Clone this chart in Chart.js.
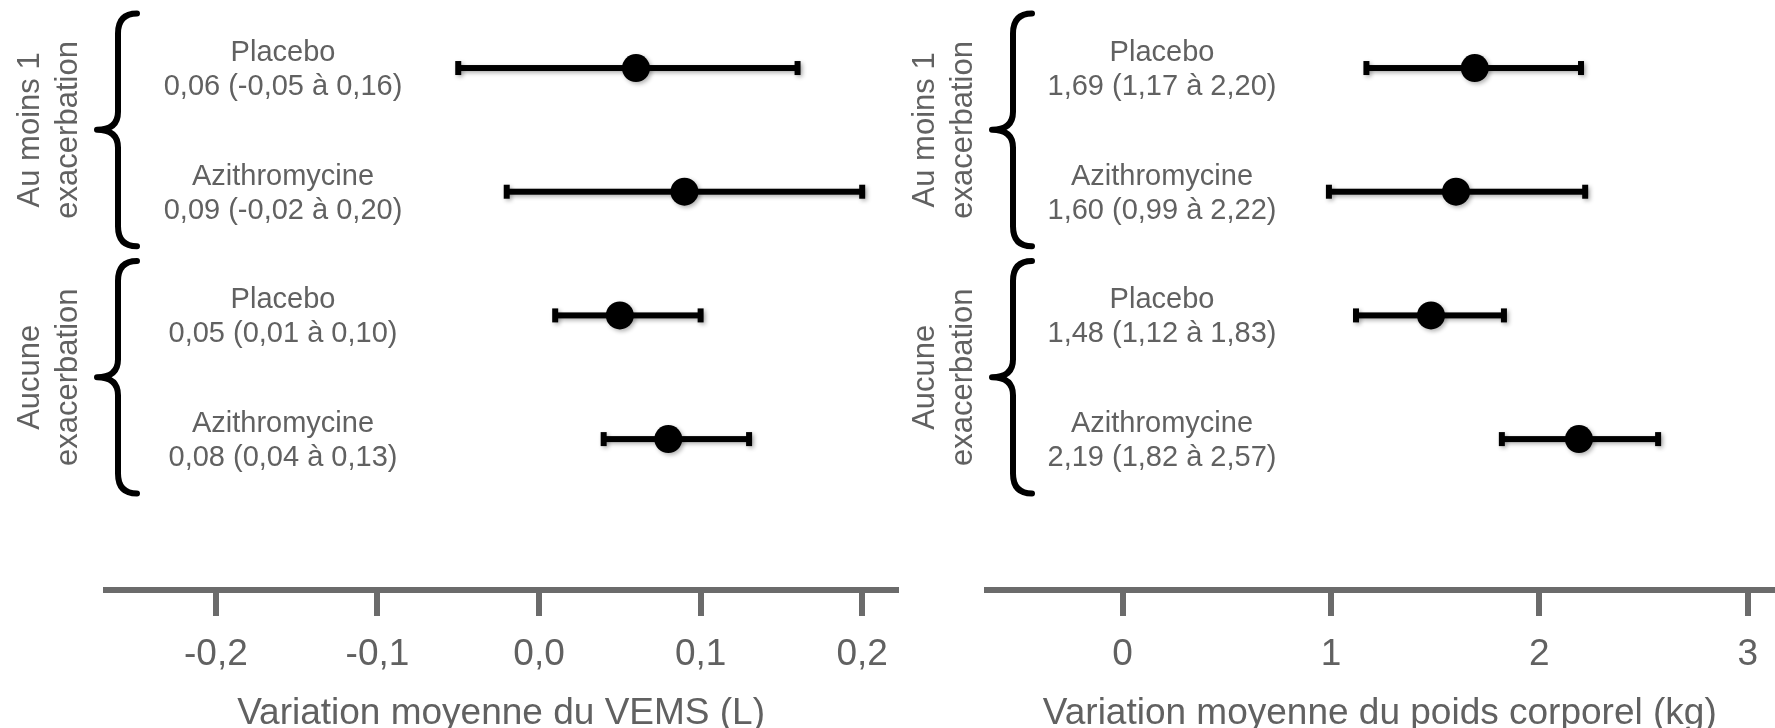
<!DOCTYPE html>
<html lang="fr">
<head>
<meta charset="utf-8">
<script src="https://cdn.jsdelivr.net/npm/chart.js@4.4.1/dist/chart.umd.min.js"></script>
<style>
  html, body { margin: 0; padding: 0; background: #fff; }
  #wrap { position: relative; width: 1775px; height: 728px; }
  .panel { position: absolute; top: 0; height: 728px; }
  #vemsPanel { left: 0; width: 905px; }
  #poidsPanel { left: 905px; width: 870px; }
</style>
</head>
<body>
<div id="wrap">
  <div class="panel" id="vemsPanel"><canvas id="vemsChart"></canvas></div>
  <div class="panel" id="poidsPanel"><canvas id="poidsChart"></canvas></div>
</div>
<script>
// rows top to bottom, two per group
const groups = [['Au moins 1', 'exacerbation'], ['Aucune', 'exacerbation']];
const treatments = ['Placebo', 'Azithromycine', 'Placebo', 'Azithromycine'];

// VEMS change (L), mean and 95% CI
const vemsMean = [0.06, 0.09, 0.05, 0.08];
const vemsLow = [-0.05, -0.02, 0.01, 0.04];
const vemsHigh = [0.16, 0.20, 0.10, 0.13];
const vemsTicks = [-0.2, -0.1, 0.0, 0.1, 0.2];

// body weight change (kg), mean and 95% CI
const poidsMean = [1.69, 1.60, 1.48, 2.19];
const poidsLow = [1.17, 0.99, 1.12, 1.82];
const poidsHigh = [2.20, 2.22, 1.83, 2.57];
const poidsTicks = [0, 1, 2, 3];

const FONT = '"Liberation Sans", Arial, Helvetica, sans-serif';
const TEXT = '#616161';
const AXIS = '#6b6b6b';

const fr = (v, d) => v.toFixed(d).replace('.', ',');

function drawBrace(ctx, x, top, mid, bottom) {
    const curl = 19;
    const tip = 21;
    ctx.beginPath();
    ctx.moveTo(x + curl, top);
    ctx.quadraticCurveTo(x, top, x, top + 20);
    ctx.lineTo(x, mid - 18);
    ctx.quadraticCurveTo(x, mid, x - tip, mid);
    ctx.quadraticCurveTo(x, mid, x, mid + 18);
    ctx.lineTo(x, bottom - 20);
    ctx.quadraticCurveTo(x, bottom, x + curl, bottom);
    ctx.stroke();
}

// whiskers, row labels, group braces
const forestPlugin = {
    id: 'forest',
    beforeDatasetsDraw(chart, args, opts) {
        const {ctx, scales: {x, y}} = chart;
        ctx.save();
        ctx.shadowColor = 'rgba(0,0,0,0.3)';
        ctx.shadowBlur = 4;
        ctx.shadowOffsetX = 2;
        ctx.shadowOffsetY = 2;
        ctx.fillStyle = '#000';
        opts.low.forEach((lo, i) => {
            const py = y.getPixelForValue(i);
            const x1 = x.getPixelForValue(lo);
            const x2 = x.getPixelForValue(opts.high[i]);
            ctx.fillRect(x1, py - 3, x2 - x1, 6);
            ctx.fillRect(x1 - 3, py - 7, 6, 14);
            ctx.fillRect(x2 - 3, py - 7, 6, 14);
        });
        ctx.restore();
    },
    beforeDatasetDraw(chart) {
        const ctx = chart.ctx;
        ctx.save();
        ctx.shadowColor = 'rgba(0,0,0,0.3)';
        ctx.shadowBlur = 4;
        ctx.shadowOffsetX = 2;
        ctx.shadowOffsetY = 2;
    },
    afterDatasetDraw(chart) {
        chart.ctx.restore();
    },
    afterDraw(chart, args, opts) {
        const {ctx, scales: {y}} = chart;
        ctx.save();
        ctx.fillStyle = TEXT;
        ctx.textAlign = 'center';
        ctx.textBaseline = 'middle';
        ctx.font = '29px ' + FONT;
        treatments.forEach((name, i) => {
            const py = y.getPixelForValue(i);
            ctx.fillText(name, opts.labelX, py - 15);
            const d = opts.decimals;
            ctx.fillText(fr(opts.mean[i], d) + ' (' + fr(opts.low[i], d) + ' à ' + fr(opts.high[i], d) + ')', opts.labelX, py + 19);
        });

        ctx.strokeStyle = '#000';
        ctx.lineWidth = 6;
        ctx.lineCap = 'round';
        ctx.lineJoin = 'round';
        ctx.textBaseline = 'alphabetic';
        ctx.font = '31px ' + FONT;
        groups.forEach((lines, g) => {
            const c = g * 2 + 0.5;
            const mid = y.getPixelForValue(c);
            drawBrace(ctx, opts.braceX, y.getPixelForValue(c - 0.94), mid, y.getPixelForValue(c + 0.94));
            lines.forEach((txt, k) => {
                ctx.save();
                ctx.translate(opts.groupX[k], mid);
                ctx.rotate(-Math.PI / 2);
                ctx.fillText(txt, 0, 0);
                ctx.restore();
            });
        });
        ctx.restore();
    }
};

function makeChart(id, cfg) {
    const points = cfg.mean.map((m, i) => ({x: m, y: i}));
    return new Chart(document.getElementById(id), {
        type: 'scatter',
        data: {
            datasets: [{
                data: points,
                backgroundColor: '#000',
                borderWidth: 0,
                pointRadius: 14,
                pointHoverRadius: 14
            }]
        },
        options: {
            responsive: true,
            maintainAspectRatio: false,
            animation: false,
            devicePixelRatio: 1,
            events: [],
            layout: {autoPadding: false, padding: {left: cfg.padLeft, right: cfg.padRight, top: 0, bottom: 0}},
            plugins: {
                legend: {display: false},
                tooltip: {enabled: false},
                forest: {
                    mean: cfg.mean, low: cfg.low, high: cfg.high, decimals: 2,
                    labelX: cfg.labelX, braceX: cfg.braceX, groupX: cfg.groupX
                }
            },
            scales: {
                x: {
                    type: 'linear',
                    min: cfg.min,
                    max: cfg.max,
                    afterBuildTicks: s => { s.ticks = cfg.ticks.map(v => ({value: v})); },
                    afterFit: s => { s.height = 138; },
                    border: {display: true, width: 6, color: AXIS},
                    grid: {drawOnChartArea: false, drawTicks: true, tickLength: 26, lineWidth: 6, color: AXIS},
                    ticks: {
                        color: TEXT,
                        padding: 17,
                        font: {family: FONT, size: 37},
                        callback: v => fr(v, cfg.tickDecimals)
                    },
                    title: {
                        display: true,
                        text: cfg.title,
                        color: TEXT,
                        padding: {top: 0, bottom: 0},
                        font: {family: FONT, size: 37, lineHeight: 0.78}
                    }
                },
                y: {type: 'linear', reverse: true, min: -0.55, max: 4.22, display: false}
            }
        },
        plugins: [forestPlugin]
    });
}

makeChart('vemsChart', {
    mean: vemsMean, low: vemsLow, high: vemsHigh, ticks: vemsTicks, tickDecimals: 1,
    min: -0.268, max: 0.221, padLeft: 106, padRight: 2,
    labelX: 283, braceX: 118, groupX: [39, 77],
    title: 'Variation moyenne du VEMS (L)'
});

makeChart('poidsChart', {
    mean: poidsMean, low: poidsLow, high: poidsHigh, ticks: poidsTicks, tickDecimals: 0,
    min: -0.651, max: 3.119, padLeft: 82, padRight: 0,
    labelX: 257, braceX: 108, groupX: [29, 67],
    title: 'Variation moyenne du poids corporel (kg)'
});
</script>
</body>
</html>
